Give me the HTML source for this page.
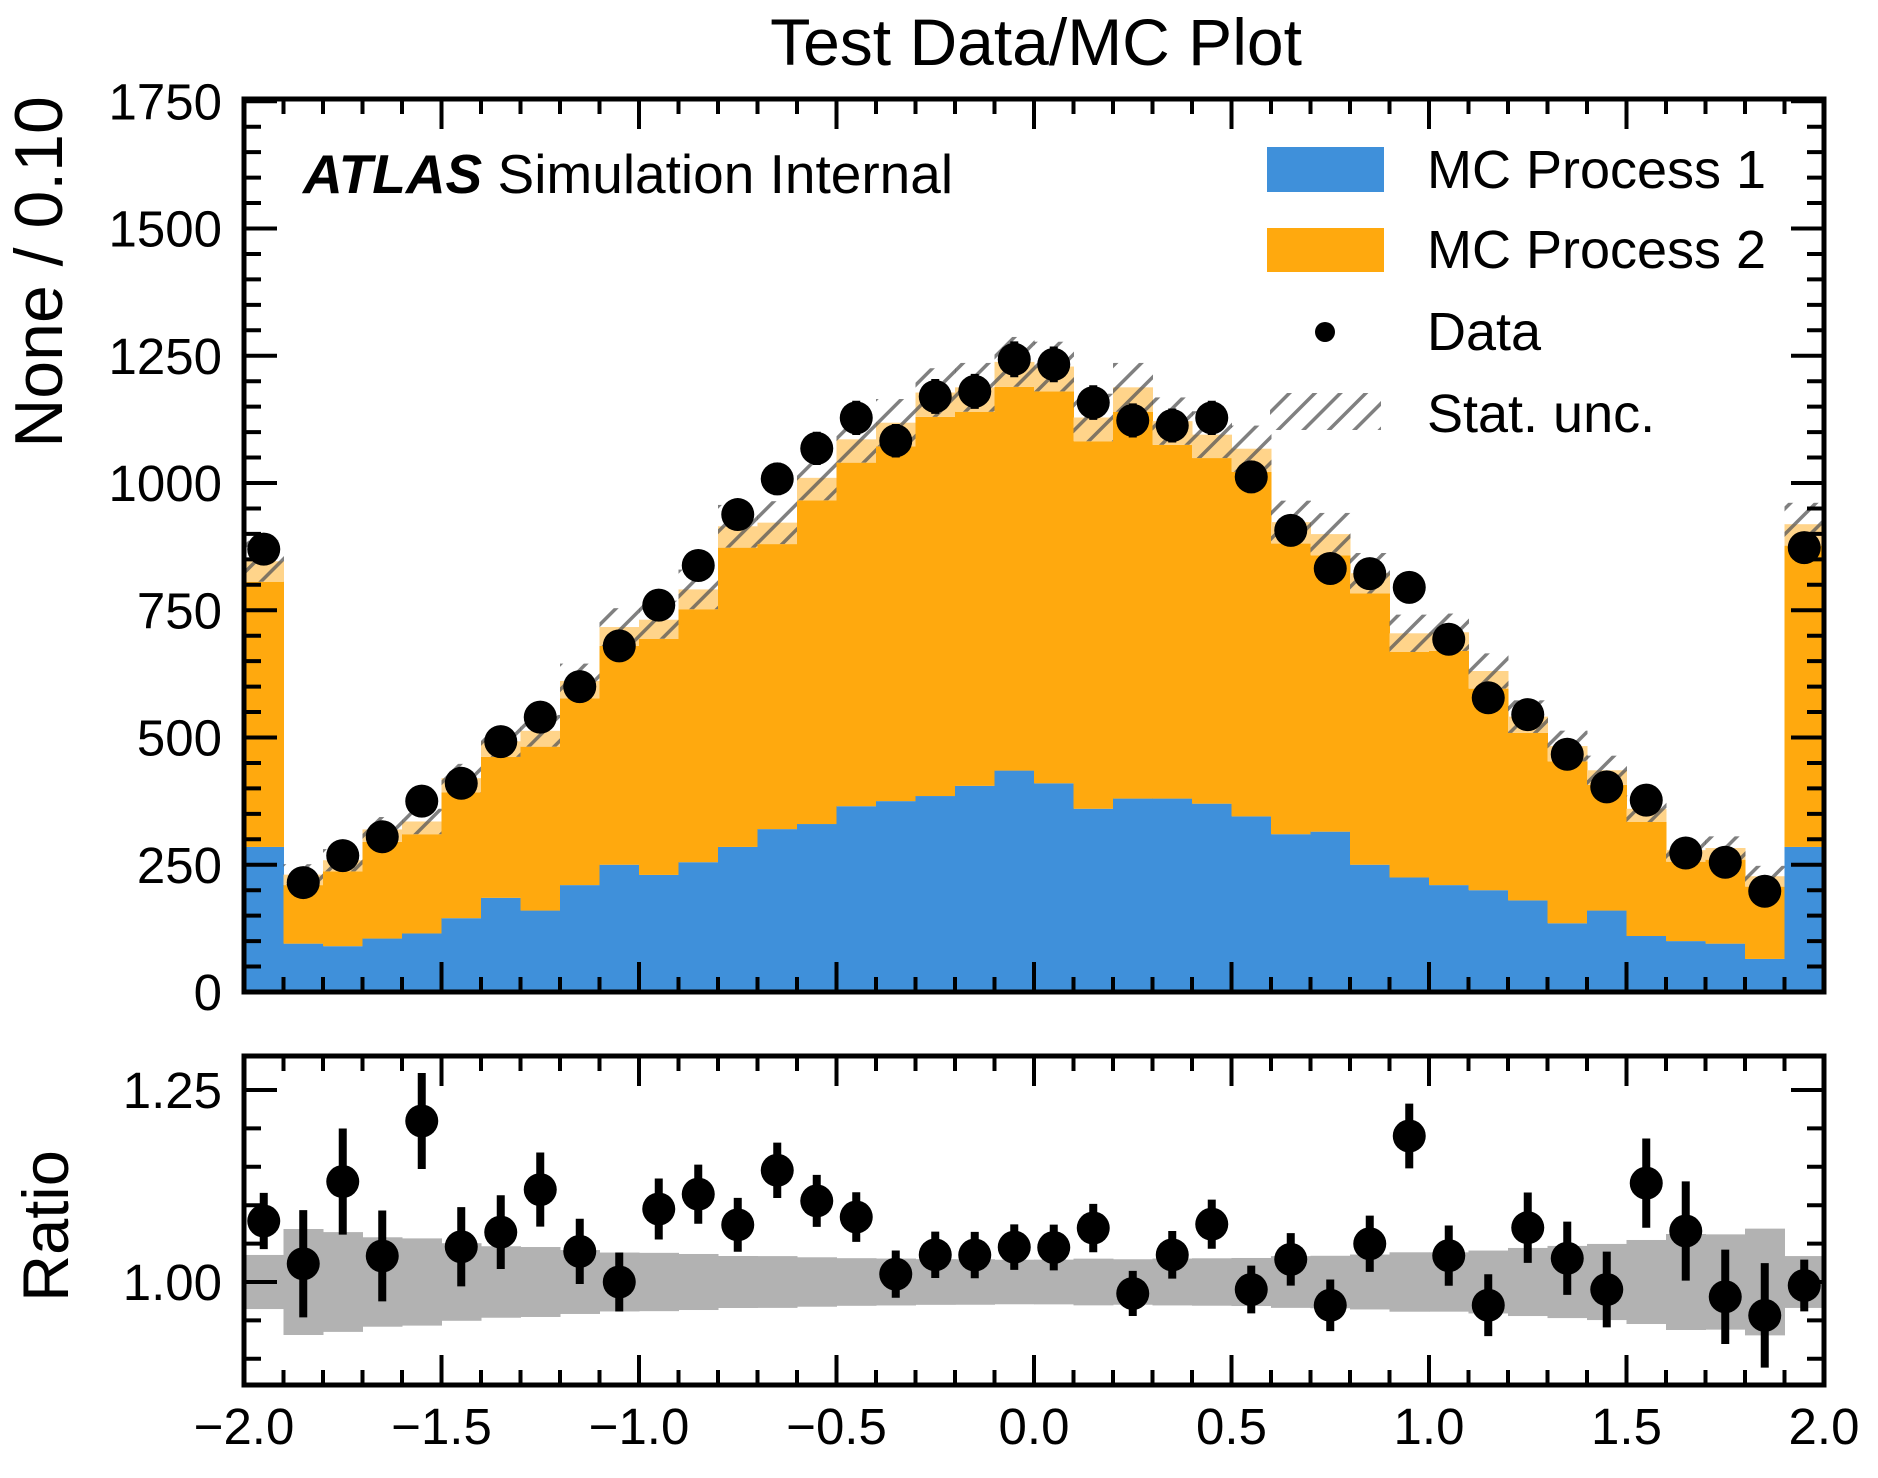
<!DOCTYPE html>
<html><head><meta charset="utf-8"><style>
html,body{margin:0;padding:0;background:#fff;}
svg{display:block;font-family:"Liberation Sans",Arial,sans-serif;}
</style></head><body>
<svg id="chart" width="1878" height="1478" viewBox="0 0 1878 1478" xmlns="http://www.w3.org/2000/svg">
<defs>
<pattern id="hatch" patternUnits="userSpaceOnUse" width="18" height="18" patternTransform="rotate(45)">
<line x1="0" y1="0" x2="0" y2="18" stroke="#555" stroke-opacity="0.75" stroke-width="7"/>
</pattern>
<clipPath id="mainClip"><rect x="244" y="99" width="1580" height="893"/></clipPath>
<clipPath id="ratioClip"><rect x="244" y="1056" width="1580" height="329"/></clipPath>
</defs>
<text x="1036" y="65" font-size="66" text-anchor="middle">Test Data/MC Plot</text>
<g id="main" clip-path="url(#mainClip)"></g>
<g id="ratio" clip-path="url(#ratioClip)"></g>
<g id="axes"></g>
<text x="303" y="193" font-size="55"><tspan font-weight="bold" font-style="italic">ATLAS</tspan> Simulation Internal</text>
<g>
<rect x="1267" y="147" width="117" height="45" fill="#3f90da"/>
<text x="1427" y="188" font-size="54">MC Process 1</text>
<rect x="1267" y="228" width="117" height="44" fill="#ffa90e"/>
<text x="1427" y="268" font-size="54">MC Process 2</text>
<circle cx="1325" cy="332" r="10" fill="#000"/>
<text x="1427" y="350" font-size="54">Data</text>
<rect x="1270" y="393" width="111" height="37" fill="url(#hatch)"/>
<text x="1427" y="432" font-size="54">Stat. unc.</text>
</g>
<text transform="translate(62,272) rotate(-90)" font-size="68" text-anchor="middle">None / 0.10</text>
<text transform="translate(68,1226) rotate(-90)" font-size="65" text-anchor="middle">Ratio</text>
</svg>
<script>
const binEdgesMin = -2.0;
const binWidth = 0.1;
const mc1 = [285,95,90,105,115,145,185,160,210,250,230,255,285,320,330,365,375,385,405,435,410,360,380,380,370,345,310,315,250,225,210,200,180,135,160,110,100,95,65,285];
const mcTotal = [806,210,237,295,310,392,462,482,577,680,694,752,873,880,966,1040,1072,1130,1140,1189,1180,1082,1140,1075,1049,1022,881,858,783,668,670,596,509,453,407,334,256,260,207,877];
const dataCounts = [870,215,268,305,375,410,492,540,600,680,760,838,938,1008,1068,1128,1083,1170,1180,1243,1233,1158,1123,1113,1128,1012,907,832,822,795,693,578,545,467,403,377,273,255,198,873];
const yTicksMain = [0,250,500,750,1000,1250,1500,1750];
const yTicksRatio = [1.00,1.25];
const xTickLabels = [-2.0,-1.5,-1.0,-0.5,0.0,0.5,1.0,1.5,2.0];

const NS = "http://www.w3.org/2000/svg";
const X0 = 244, X1 = 1824;
function xs(v){ return X0 + (v + 2) / 4 * (X1 - X0); }
function ym(v){ return 992 - v * 0.509; }
function yr(r){ return 1282 - (r - 1) * 768; }
function mk(tag, attrs, parent){
  const e = document.createElementNS(NS, tag);
  for (const k in attrs) e.setAttribute(k, attrs[k]);
  parent.appendChild(e);
  return e;
}
const gMain = document.getElementById('main');
const gRatio = document.getElementById('ratio');
const gAxes = document.getElementById('axes');

for (let i = 0; i < mcTotal.length; i++) {
  const xa = xs(binEdgesMin + i * binWidth), xb = xs(binEdgesMin + (i + 1) * binWidth);
  const w = xb - xa + 0.5;
  const r1 = mk('rect', {x: xa, y: ym(mc1[i]), width: w, height: ym(0) - ym(mc1[i]), fill: '#3f90da'}, gMain);
  
  
  const r2 = mk('rect', {x: xa, y: ym(mcTotal[i]), width: w, height: ym(mc1[i]) - ym(mcTotal[i]), fill: '#ffa90e'}, gMain);
  
  
  const u = 1.42 * Math.sqrt(mcTotal[i]);
  const b1 = mk('rect', {x: xa, y: ym(mcTotal[i] + u), width: w, height: ym(mcTotal[i]) - ym(mcTotal[i] + u), fill: '#ffd48a'}, gMain);
  
  
  const b2 = mk('rect', {x: xa, y: ym(mcTotal[i] + 2 * u), width: w, height: ym(mcTotal[i]) - ym(mcTotal[i] + 2 * u), fill: 'url(#hatch)'}, gMain);
  
  
  const rb = Math.sqrt(mcTotal[i]) / mcTotal[i];
  const rbx = mk('rect', {x: xa, y: yr(1 + rb), width: w, height: yr(1 - rb) - yr(1 + rb), fill: '#b2b2b2'}, gRatio);
  
  
}
for (let i = 0; i < dataCounts.length; i++) {
  const xc = xs(binEdgesMin + (i + 0.5) * binWidth);
  const e = Math.sqrt(dataCounts[i]);
  const l = mk('line', {x1: xc, x2: xc, y1: ym(dataCounts[i] - e), y2: ym(dataCounts[i] + e), stroke: '#000', 'stroke-width': 8}, gMain);
  
  
  const c = mk('circle', {cx: xc, cy: ym(dataCounts[i]), r: 16.5, fill: '#000'}, gMain);
  
  
  const r = dataCounts[i] / mcTotal[i];
  const re = e / mcTotal[i];
  const l2 = mk('line', {x1: xc, x2: xc, y1: yr(r - re), y2: yr(r + re), stroke: '#000', 'stroke-width': 8}, gRatio);
  
  
  const c2 = mk('circle', {cx: xc, cy: yr(r), r: 16.5, fill: '#000'}, gRatio);
  
  
}

function ticksX(top, bot){
  for (let k = 0; k <= 40; k++) {
    const x = xs(-2 + k * 0.1);
    const len = (k % 5 === 0) ? 30 : 15;
    mk('line', {x1: x, x2: x, y1: top, y2: top + len, stroke: '#000', 'stroke-width': 4}, gAxes);
    mk('line', {x1: x, x2: x, y1: bot, y2: bot - len, stroke: '#000', 'stroke-width': 4}, gAxes);
  }
}
const f1 = mk('rect', {x: X0, y: 99, width: X1 - X0, height: 893, fill: 'none', stroke: '#000', 'stroke-width': 5}, gAxes);


ticksX(99, 992);
for (let v = 0; v <= 1750; v += 50) {
  const y = ym(v);
  const len = (v % 250 === 0) ? 33 : 17;
  mk('line', {x1: X0, x2: X0 + len, y1: y, y2: y, stroke: '#000', 'stroke-width': 4}, gAxes);
  mk('line', {x1: X1, x2: X1 - len, y1: y, y2: y, stroke: '#000', 'stroke-width': 4}, gAxes);
}
yTicksMain.forEach(v => {
  const t = mk('text', {x: 222, y: ym(v) + 18, 'font-size': 51, 'text-anchor': 'end'}, gAxes);
  t.textContent = String(v);
  
  
});
const f2 = mk('rect', {x: X0, y: 1056, width: X1 - X0, height: 329, fill: 'none', stroke: '#000', 'stroke-width': 5}, gAxes);


ticksX(1056, 1385);
for (let k = -3; k <= 6; k++) {
  const r = 1 + k * 0.05;
  const y = yr(r);
  if (y < 1058 || y > 1383) continue;
  const len = (k % 5 === 0) ? 33 : 17;
  mk('line', {x1: X0, x2: X0 + len, y1: y, y2: y, stroke: '#000', 'stroke-width': 4}, gAxes);
  mk('line', {x1: X1, x2: X1 - len, y1: y, y2: y, stroke: '#000', 'stroke-width': 4}, gAxes);
}
yTicksRatio.forEach(v => {
  const t = mk('text', {x: 222, y: yr(v) + 18, 'font-size': 51, 'text-anchor': 'end'}, gAxes);
  t.textContent = v.toFixed(2);
  
  
});
xTickLabels.forEach(v => {
  const t = mk('text', {x: xs(v), y: 1444, 'font-size': 51, 'text-anchor': 'middle'}, gAxes);
  t.textContent = (v < 0 ? '\u2212' : '') + Math.abs(v).toFixed(1);
  
  
});
</script>
</body></html>
